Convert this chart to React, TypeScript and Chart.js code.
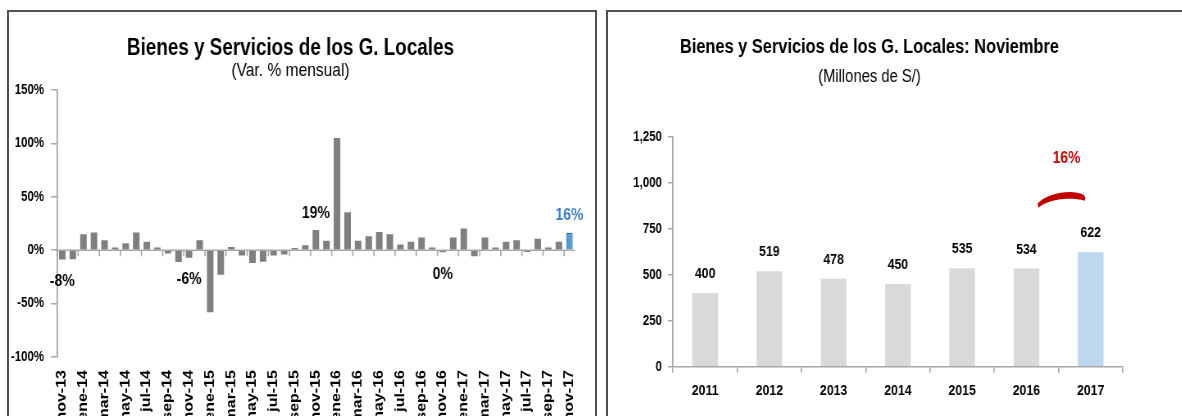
import React, { useEffect, useRef } from "react";
import { Chart, registerables } from "chart.js";

Chart.register(...registerables);

const FONT = "'Liberation Sans', Arial, sans-serif";

// ---------- Left chart data (Var. % mensual) ----------
const monthLabels = [
  "nov-13", "dic-13",
  "ene-14", "feb-14", "mar-14", "abr-14", "may-14", "jun-14", "jul-14", "ago-14", "sep-14", "oct-14", "nov-14", "dic-14",
  "ene-15", "feb-15", "mar-15", "abr-15", "may-15", "jun-15", "jul-15", "ago-15", "sep-15", "oct-15", "nov-15", "dic-15",
  "ene-16", "feb-16", "mar-16", "abr-16", "may-16", "jun-16", "jul-16", "ago-16", "sep-16", "oct-16", "nov-16", "dic-16",
  "ene-17", "feb-17", "mar-17", "abr-17", "may-17", "jun-17", "jul-17", "ago-17", "sep-17", "oct-17", "nov-17",
];
const monthValues = [
  -8.8, -8.5,
  15, 16.5, 9.4, 2.5, 6.6, 16.5, 7.8, 2.5, -3, -11, -7, 9.4,
  -58, -23, 3, -5, -12, -10.7, -5, -4, 2, 4.7, 19, 8.8,
  105, 35.5, 8.8, 13, 17, 15, 5.3, 7.9, 12, 2.5, -1.9, 12,
  20.4, -5.7, 12, 2.5, 7.9, 9.4, -1.6, 10.7, 2.5, 7.9, 16.4,
];
const novemberLabels = ["nov-13", "nov-14", "nov-15", "nov-16", "nov-17"];
const novemberChangeLabels = ["-8%", "-6%", "19%", "0%", "16%"];
const yPctTicks = [-100, -50, 0, 50, 100, 150];

// ---------- Right chart data (Millones de S/) ----------
const years = ["2011", "2012", "2013", "2014", "2015", "2016", "2017"];
const novemberValues = [400, 519, 478, 450, 535, 534, 622];
const yMillTicks = [0, 250, 500, 750, 1000, 1250];

const GRAY_BAR = "#7F7F7F";
const BLUE_BAR = "#5B9BD5";
const BLUE_EDGE = "#2E6DB4";
const BLUE_TEXT = "#3A7DC4";
const LIGHT_BAR = "#D9D9D9";
const LIGHT_BLUE_BAR = "#BDD7EE";
const AXIS = "#A6A6A6";
const RED = "#C00000";

// horizontal condensing factor (canvas drawn wider, shown narrower)
const S = 0.82;
const L_SCREEN_W = 587;
const L_CANVAS_W = Math.round(L_SCREEN_W / S);
const R_SCREEN_W = 600;
const R_CANVAS_W = Math.round(R_SCREEN_W / S);
const sx = (screenPx: number) => screenPx / S;

function titlePlugin(title: string, sub: string, cx: number, tBase: number, sBase: number, tSize: number, sSize: number) {
  return {
    id: "titles",
    afterDraw(chart: any) {
      const ctx = chart.ctx;
      ctx.save();
      ctx.fillStyle = "#000";
      ctx.textAlign = "center";
      ctx.textBaseline = "alphabetic";
      ctx.font = `bold ${tSize}px ${FONT}`;
      ctx.fillText(title, cx, tBase);
      ctx.font = `${sSize}px ${FONT}`;
      ctx.fillText(sub, cx, sBase);
      ctx.restore();
    },
  };
}

const leftDecor = {
  id: "leftDecor",
  afterDatasetsDraw(chart: any) {
    const { ctx, chartArea } = chart;
    const x = chart.scales.x;
    const y = chart.scales.y;
    const y0 = y.getPixelForValue(0);
    const step = x.getPixelForValue(1) - x.getPixelForValue(0);
    ctx.save();
    ctx.strokeStyle = AXIS;
    ctx.lineWidth = 1.5;
    ctx.beginPath();
    ctx.moveTo(chartArea.left, y0);
    ctx.lineTo(chartArea.right, y0);
    ctx.stroke();
    ctx.lineWidth = 1.6;
    ctx.beginPath();
    for (let i = 0; i < monthLabels.length; i += 2) {
      const bx = x.getPixelForValue(i) - step / 2;
      ctx.moveTo(bx, y0);
      ctx.lineTo(bx, y0 + 6);
    }
    ctx.stroke();
    ctx.font = `bold 17px ${FONT}`;
    ctx.textAlign = "center";
    ctx.textBaseline = "middle";
    const meta = chart.getDatasetMeta(0);
    novemberLabels.forEach((lab, k) => {
      const idx = monthLabels.indexOf(lab);
      const v = monthValues[idx];
      const el = meta.data[idx];
      const ty = v >= 0 ? y.getPixelForValue(v) - 17 : y.getPixelForValue(v) + 22;
      ctx.fillStyle = idx === monthLabels.length - 1 ? BLUE_TEXT : "#000";
      ctx.fillText(novemberChangeLabels[k], el.x, ty);
    });
    ctx.restore();
  },
};

const rightDecor = {
  id: "rightDecor",
  afterDatasetsDraw(chart: any) {
    const { ctx, chartArea } = chart;
    const x = chart.scales.x;
    const y = chart.scales.y;
    const meta = chart.getDatasetMeta(0);
    ctx.save();
    ctx.fillStyle = "#000";
    ctx.font = `bold 15px ${FONT}`;
    ctx.textAlign = "center";
    ctx.textBaseline = "middle";
    novemberValues.forEach((v, i) => {
      ctx.fillText(String(v), meta.data[i].x, y.getPixelForValue(v) - 19);
    });
    // growth annotation between the last two years
    const n = years.length;
    const mid = (x.getPixelForValue(n - 2) + x.getPixelForValue(n - 1)) / 2;
    const top = chartArea.top;
    ctx.fillStyle = RED;
    ctx.font = `bold 17px ${FONT}`;
    ctx.fillText(novemberChangeLabels[novemberChangeLabels.length - 1], mid + sx(8), top + 22);
    // swoosh: thick curved band, tapered at the ends
    ctx.beginPath();
    ctx.moveTo(mid - sx(21), top + 67);
    ctx.bezierCurveTo(mid - sx(12), top + 57, mid + sx(12), top + 52, mid + sx(25), top + 58);
    ctx.quadraticCurveTo(mid + sx(28), top + 61, mid + sx(26), top + 64);
    ctx.bezierCurveTo(mid + sx(12), top + 60, mid - sx(10), top + 62, mid - sx(20), top + 71);
    ctx.closePath();
    ctx.fill();
    ctx.restore();
  },
};

function LeftChart() {
  const ref = useRef<HTMLCanvasElement>(null);
  useEffect(() => {
    if (!ref.current) return;
    const last = monthValues.length - 1;
    const chart = new Chart(ref.current, {
      type: "bar",
      data: {
        labels: monthLabels,
        datasets: [
          {
            data: monthValues,
            backgroundColor: monthValues.map((_, i) => (i === last ? BLUE_BAR : GRAY_BAR)),
            borderColor: monthValues.map((_, i) => (i === last ? BLUE_EDGE : GRAY_BAR)),
            borderWidth: monthValues.map((_, i) => (i === last ? 1.2 : 0)),
            barPercentage: 0.62,
            categoryPercentage: 1,
          },
        ],
      },
      options: {
        animation: false,
        responsive: false,
        devicePixelRatio: 1,
        layout: { padding: { top: 78, right: L_CANVAS_W - sx(573), left: 0, bottom: 0 } },
        plugins: { legend: { display: false }, tooltip: { enabled: false }, title: { display: false } },
        scales: {
          x: {
            border: { display: false },
            grid: { display: false, drawTicks: false },
            ticks: {
              autoSkip: false,
              maxRotation: 90,
              minRotation: 90,
              padding: 13,
              color: "#000",
              font: { family: FONT, size: 16, weight: "bold" },
              callback: (_v: any, i: number) => (i % 2 === 0 ? monthLabels[i] : ""),
            },
            afterFit: (s: any) => {
              s.height = 95;
            },
          },
          y: {
            min: yPctTicks[0],
            max: yPctTicks[yPctTicks.length - 1],
            border: { display: true, color: AXIS, width: 1.8 },
            grid: { drawOnChartArea: false, drawTicks: true, tickLength: sx(6), color: AXIS, lineWidth: 1.5 },
            afterBuildTicks: (s: any) => {
              s.ticks = yPctTicks.map((v) => ({ value: v }));
            },
            ticks: {
              padding: sx(7),
              color: "#000",
              font: { family: FONT, size: 14, weight: "bold" },
              callback: (v: any) => `${v}%`,
            },
            afterFit: (s: any) => {
              s.width = sx(48);
            },
          },
        },
      },
      plugins: [
        leftDecor,
        titlePlugin("Bienes y Servicios de los G. Locales", "(Var. % mensual)", sx(281.5), 42.5, 63.5, 23, 19),
      ],
    });
    return () => chart.destroy();
  }, []);
  return (
    <canvas
      ref={ref}
      width={L_CANVAS_W}
      height={440}
      style={{ position: "absolute", left: 9, top: 12, width: L_SCREEN_W, height: 440 }}
    />
  );
}

function RightChart() {
  const ref = useRef<HTMLCanvasElement>(null);
  useEffect(() => {
    if (!ref.current) return;
    const last = novemberValues.length - 1;
    const chart = new Chart(ref.current, {
      type: "bar",
      data: {
        labels: years,
        datasets: [
          {
            data: novemberValues,
            backgroundColor: novemberValues.map((_, i) => (i === last ? LIGHT_BLUE_BAR : LIGHT_BAR)),
            borderWidth: 0,
            barPercentage: 0.4,
            categoryPercentage: 1,
          },
        ],
      },
      options: {
        animation: false,
        responsive: false,
        devicePixelRatio: 1,
        layout: { padding: { top: 124.7, right: R_CANVAS_W - sx(515), left: 0, bottom: 0 } },
        plugins: { legend: { display: false }, tooltip: { enabled: false }, title: { display: false } },
        scales: {
          x: {
            border: { display: true, color: AXIS, width: 1.5 },
            grid: { display: true, drawOnChartArea: false, drawTicks: true, tickLength: 6, color: AXIS, offset: true, lineWidth: 1.6 },
            ticks: {
              padding: 9,
              color: "#000",
              font: { family: FONT, size: 15, weight: "bold" },
            },
            afterFit: (s: any) => {
              s.height = 49.3;
            },
          },
          y: {
            min: yMillTicks[0],
            max: yMillTicks[yMillTicks.length - 1],
            border: { display: true, color: AXIS, width: 1.8 },
            grid: { drawOnChartArea: false, drawTicks: true, tickLength: sx(5), color: AXIS, lineWidth: 1.5 },
            afterBuildTicks: (s: any) => {
              s.ticks = yMillTicks.map((v) => ({ value: v }));
            },
            ticks: {
              padding: sx(6),
              color: "#000",
              font: { family: FONT, size: 14, weight: "bold" },
              callback: (v: any) => Number(v).toLocaleString("en-US"),
            },
            afterFit: (s: any) => {
              s.width = sx(65);
            },
          },
        },
      },
      plugins: [
        rightDecor,
        titlePlugin("Bienes y Servicios de los G. Locales: Noviembre", "(Millones de S/)", sx(261.5), 41.3, 69.5, 20, 18),
      ],
    });
    return () => chart.destroy();
  }, []);
  return (
    <canvas
      ref={ref}
      width={R_CANVAS_W}
      height={404}
      style={{ position: "absolute", left: 608, top: 12, width: R_SCREEN_W, height: 404 }}
    />
  );
}

export default function App() {
  return (
    <div
      style={{
        position: "fixed",
        left: 0,
        top: 0,
        width: 1182,
        height: 416,
        overflow: "hidden",
        background: "#fff",
      }}
    >
      <div
        style={{
          position: "absolute",
          left: 7,
          top: 10,
          width: 590,
          height: 430,
          boxSizing: "border-box",
          border: "2px solid #505050",
        }}
      />
      <div
        style={{
          position: "absolute",
          left: 606,
          top: 10,
          width: 620,
          height: 430,
          boxSizing: "border-box",
          border: "2px solid #505050",
        }}
      />
      <LeftChart />
      <RightChart />
    </div>
  );
}
